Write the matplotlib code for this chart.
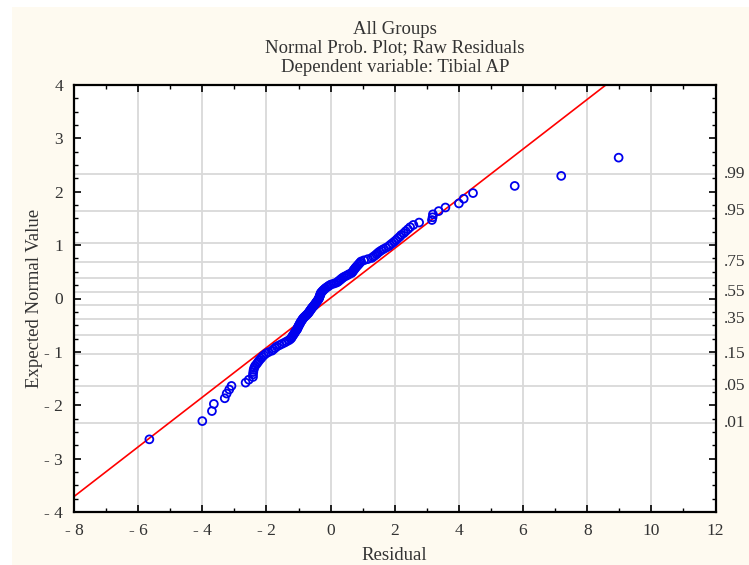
import matplotlib
matplotlib.use("Agg")
import matplotlib.pyplot as plt
from matplotlib.patches import Rectangle
from statistics import NormalDist
import numpy as np

# ---- data ----
residuals = [
    -5.65, -4.00, -3.70, -3.64, -3.30, -3.24, -3.16, -3.09, -2.65, -2.55,
    -2.42, -2.42, -2.41, -2.40, -2.38, -2.35, -2.30, -2.26, -2.22, -2.17,
    -2.13, -2.08, -2.02, -1.94, -1.83, -1.78, -1.73, -1.68, -1.60, -1.52,
    -1.44, -1.37, -1.30, -1.25, -1.22, -1.20, -1.18, -1.15, -1.13, -1.11,
    -1.09, -1.06, -1.04, -1.03, -1.01, -1.00, -0.98, -0.96, -0.95, -0.93,
    -0.91, -0.89, -0.87, -0.85, -0.82, -0.79, -0.76, -0.73, -0.70, -0.68,
    -0.66, -0.64, -0.62, -0.60, -0.58, -0.56, -0.53, -0.51, -0.49, -0.47,
    -0.45, -0.43, -0.41, -0.39, -0.37, -0.36, -0.35, -0.34, -0.33, -0.32,
    -0.31, -0.30, -0.27, -0.25, -0.22, -0.19, -0.16, -0.12, -0.08, -0.04,
    0.01, 0.10, 0.18, 0.23, 0.26, 0.30, 0.33, 0.37, 0.41, 0.47,
    0.53, 0.58, 0.65, 0.68, 0.70, 0.72, 0.75, 0.77, 0.80, 0.83,
    0.86, 0.89, 0.92, 0.95, 1.04, 1.16, 1.28, 1.33, 1.38, 1.43,
    1.47, 1.52, 1.58, 1.65, 1.73, 1.81, 1.86, 1.92, 1.98, 2.04,
    2.09, 2.15, 2.20, 2.28, 2.34, 2.41, 2.48, 2.58, 2.76, 3.16,
    3.18, 3.19, 3.37, 3.58, 4.00, 4.15, 4.44, 5.74, 7.19, 8.98,
]
line_intercept = 0.01
line_slope = 0.465
grid_probs = [0.01, 0.05, 0.15, 0.25, 0.35, 0.45, 0.55, 0.65, 0.75, 0.85, 0.95, 0.99]
label_probs = [0.01, 0.05, 0.15, 0.35, 0.55, 0.75, 0.95, 0.99]
label_texts = [".01", ".05", ".15", ".35", ".55", ".75", ".95", ".99"]
x_ticks = [-8, -6, -4, -2, 0, 2, 4, 6, 8, 10, 12]
x_tick_labels = ["- 8", "- 6", "- 4", "- 2", "0", "2", "4", "6", "8", "10", "12"]
y_ticks = [-4, -3, -2, -1, 0, 1, 2, 3, 4]
y_tick_labels = ["- 4", "- 3", "- 2", "- 1", "0", "1", "2", "3", "4"]
title_lines = ["All Groups", "Normal Prob. Plot; Raw Residuals", "Dependent variable: Tibial AP"]

# expected normal values (Blom ranks)
nd = NormalDist()
res = np.sort(np.array(residuals))
n = len(res)
expected = np.array([nd.inv_cdf((i - 0.375) / (n + 0.25)) for i in range(1, n + 1)])

plt.rcParams['font.family'] = ['Liberation Serif', 'DejaVu Serif']
cream = '#fefaf0'
txt = '#333333'

fig = plt.figure(figsize=(7.49, 5.65), dpi=100)
fig.patch.set_facecolor('white')
fig.patches.append(Rectangle((12 / 749, 0), 1 - 12 / 749, 1 - 7 / 565,
                             transform=fig.transFigure, facecolor=cream,
                             edgecolor='none', zorder=-10))

ax = fig.add_axes([74 / 749, 1 - 512 / 565, (715.5 - 74) / 749, (512 - 85) / 565])
ax.set_facecolor('white')
ax.set_xlim(-8, 12)
ax.set_ylim(-4, 4)

# grid
for xv in x_ticks[1:-1]:
    ax.axvline(xv, color='#d9d9d9', lw=1.3, zorder=0)
for p in grid_probs:
    ax.axhline(nd.inv_cdf(p), color='#d9d9d9', lw=1.3, zorder=0)

ax.axline((0, line_intercept), slope=line_slope, color='red', lw=1.2, zorder=2)
ax.scatter(res, expected, s=32, facecolors='none', edgecolors='#0000ee',
           linewidths=1.3, zorder=3)

ax.set_xticks(x_ticks)
ax.set_xticklabels(x_tick_labels)
ax.set_yticks(y_ticks)
ax.set_yticklabels(y_tick_labels)
ax.set_xticks(np.arange(-8, 12.01, 1), minor=True)
ax.set_yticks(np.arange(-4, 4.01, 0.25), minor=True)
ax.tick_params(which='both', direction='in', top=True, right=True, color='black')
ax.tick_params(which='major', length=5, width=1.2, labelsize=12.5, pad=8, labelcolor=txt)
ax.tick_params(which='minor', length=3, width=1.0)
for s in ax.spines.values():
    s.set_linewidth(1.6)

# right-side probability labels
for p, t in zip(label_probs, label_texts):
    ax.text(1.0 + 8 / 641.5, nd.inv_cdf(p), t, transform=ax.get_yaxis_transform(),
            ha='left', va='center', fontsize=12.5, color=txt)

ax.set_xlabel("Residual", fontsize=13.5, labelpad=6, color=txt)
ax.set_ylabel("Expected Normal Value", fontsize=13.5, labelpad=0.5, color=txt)

fig.text(395 / 749, 1 - 30 / 565, title_lines[0], ha='center', va='center', fontsize=13.5, color=txt)
fig.text(395 / 749, 1 - 48 / 565, title_lines[1], ha='center', va='center', fontsize=13.5, color=txt)
fig.text(395 / 749, 1 - 67 / 565, title_lines[2], ha='center', va='center', fontsize=13.5, color=txt)

fig.savefig("out.png", dpi=100, facecolor=fig.get_facecolor())
